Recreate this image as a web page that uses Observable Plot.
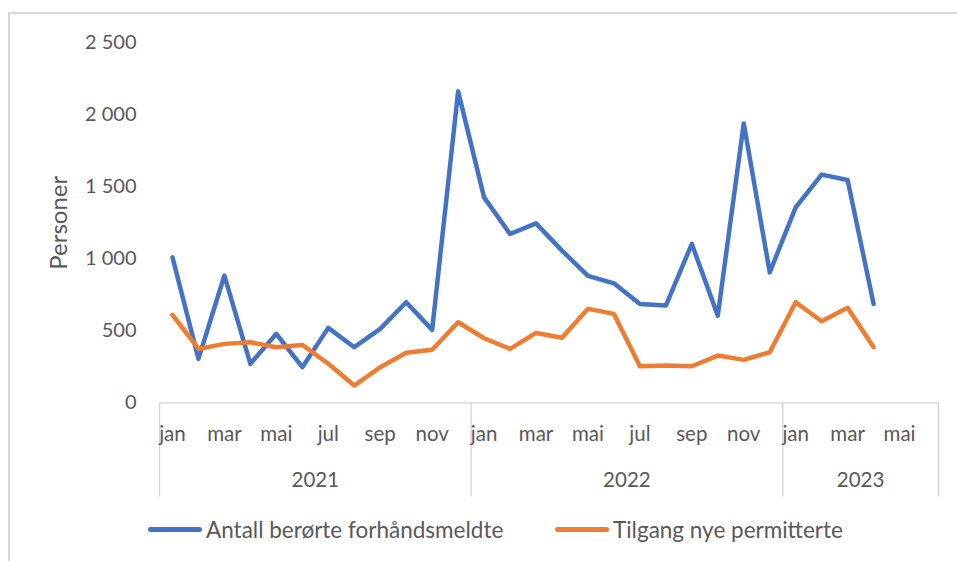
<!DOCTYPE html>
<html><head><meta charset="utf-8">
<script src="https://cdn.jsdelivr.net/npm/d3@7"></script>
<script src="https://cdn.jsdelivr.net/npm/@observablehq/plot@0.6"></script>
<style>
body{margin:0;background:#fff;font-family:Lato,"Open Sans",sans-serif;}
#wrap{position:relative;width:957px;height:561px;overflow:hidden;}
#border{position:absolute;left:8px;top:12px;width:960px;height:560px;border:2px solid #d9d9d9;box-sizing:border-box;}
#chart{position:absolute;left:0;top:0;}
#legend{position:absolute;left:0;top:516px;width:957px;font-size:22.5px;color:#595959;}
.item{position:absolute;display:flex;align-items:center;white-space:nowrap;}
.sw{display:inline-block;width:54px;height:5px;border-radius:3px;margin-right:4px;}
</style></head>
<body><div id="wrap"><div id="border"></div><div id="chart"></div><div id="legend"></div></div>
<script>
const months = ["jan","feb","mar","apr","mai","jun","jul","aug","sep","okt","nov","des"];
const years = ["2021","2022","2023"];
const nCategories = 30; // jan 2021 .. jun 2023
const forhandsmeldte = [1010,306,884,272,480,248,521,387,514,699,507,2161,
  1426,1172,1246,1057,881,830,687,676,1103,606,1939,906,
  1357,1584,1547,687];
const nyePermitterte = [611,375,410,421,387,403,272,121,248,348,369,560,
  449,375,486,452,653,618,255,260,255,329,299,352,
  699,567,660,387];
const seriesNames = ["Antall berørte forhåndsmeldte","Tilgang nye permitterte"];
const colors = ["#4472C4","#ED7D31"];
const yTicks = [0,500,1000,1500,2000,2500];

const data = [];
forhandsmeldte.forEach((v,i)=>data.push({i, x:i+0.5, value:v, series:seriesNames[0]}));
nyePermitterte.forEach((v,i)=>data.push({i, x:i+0.5, value:v, series:seriesNames[1]}));

const monthTicks = d3.range(0, nCategories, 2).map(i=>i+0.5);
const yearBounds = [0,12,24,nCategories];
const yearCenters = [6,18,27];
const fmt = d3.formatLocale({decimal:",",thousands:"\u00a0",grouping:[3],currency:["","kr"]}).format(",d");

const plot = Plot.plot({
  width: 957, height: 510,
  marginLeft: 159, marginRight: 19, marginTop: 42, marginBottom: 107.5,
  style: {fontFamily: "Lato, 'Open Sans', sans-serif", fontSize: "20px", color: "#595959", background: "transparent"},
  x: {domain: [0, nCategories], axis: null},
  y: {domain: [0, 2500], axis: null},
  color: {domain: seriesNames, range: colors},
  marks: [
    Plot.axisY({ticks: yTicks, tickSize: 0, tickPadding: 23, tickFormat: fmt, label: null, fontSize: 20}),
    Plot.axisX({ticks: yearBounds, tickSize: 94, tickFormat: () => "", stroke: "#d9d9d9", strokeWidth: 1.5, label: null}),
    Plot.axisX({ticks: monthTicks, tickSize: 0, tickPadding: 23, tickFormat: d => months[Math.round(d-0.5) % 12], label: null, fontSize: 20.5}),
    Plot.axisX({ticks: yearCenters, tickSize: 0, tickPadding: 69, tickFormat: d => years[Math.floor(d/12)], label: null, fontSize: 20.5}),
    Plot.ruleY([0], {stroke: "#d9d9d9", strokeWidth: 1.5}),
    Plot.line(data, {x: "x", y: "value", z: "series", stroke: "series", strokeWidth: 4.5, strokeLinejoin: "round", strokeLinecap: "round"}),
    Plot.text(["Personer"], {frameAnchor: "left", textAnchor: "middle", dx: -100, rotate: -90, fontSize: 24, fill: "#595959"})
  ]
});
document.getElementById("chart").appendChild(plot);

const legend = document.getElementById("legend");
const lpos = [148, 555];
seriesNames.forEach((n,k)=>{
  const it = document.createElement("div");
  it.className = "item";
  it.style.left = lpos[k] + "px";
  it.innerHTML = `<span class="sw" style="background:${colors[k]}"></span><span>${n}</span>`;
  legend.appendChild(it);
});
</script></body></html>
